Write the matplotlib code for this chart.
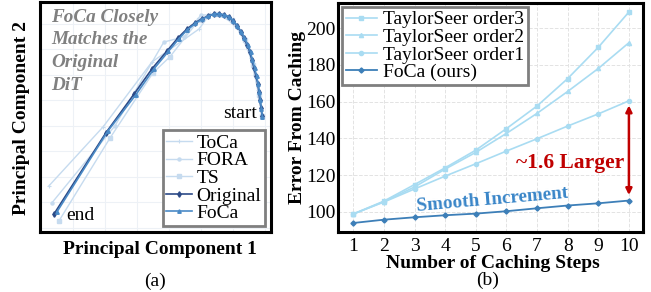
import matplotlib
matplotlib.use("Agg")
import matplotlib.pyplot as plt
import numpy as np

plt.rcParams['font.family'] = ['Liberation Serif', 'DejaVu Serif']
plt.rcParams['mathtext.fontset'] = 'stix'

# ---------------- data (a): PCA trajectories ----------------
orig_pc1 = [49.1, 48.8, 48.4, 48.1, 47.8, 47.2, 46.6, 45.9, 45.3, 44.4, 43.4, 42.5, 41.3, 40.0,
            38.8, 37.2, 35.6, 34.1, 32.2, 30.3, 28.1, 25.6, 22.8, 19.4, 14.7, 9.1, 0.3, -15.9]
orig_pc2 = [3.9, 7.1, 10.2, 13.3, 16.5, 19.6, 22.7, 25.9, 29.0, 31.8, 34.5, 36.9, 39.2, 41.2,
            42.7, 43.5, 43.9, 43.9, 43.1, 42.0, 40.4, 38.0, 34.5, 29.4, 22.4, 12.5, -2.7, -34.5]
foca_pc1 = [49.2, 48.9, 48.6, 48.3, 47.9, 47.4, 46.8, 46.1, 45.5, 44.6, 43.6, 42.6, 41.4, 40.1,
            38.8, 37.3, 35.7, 34.1, 32.2, 30.4, 28.3, 25.8, 23.1, 19.8, 15.2, 9.7, 0.9, -15.0]
foca_pc2 = [3.6, 6.8, 10.0, 13.2, 16.4, 19.6, 22.6, 25.8, 28.9, 31.7, 34.5, 36.9, 39.2, 41.3,
            42.8, 43.6, 44.0, 43.9, 43.0, 41.9, 40.2, 37.8, 34.2, 29.2, 22.2, 12.3, -2.0, -33.7]
ts_pc1 = [49.1, 48.1, 46.3, 43.8, 39.7, 34.4, 29.4, 20.3, 15.0, 1.6, -14.4]
ts_pc2 = [3.9, 12.2, 23.9, 33.7, 41.6, 43.9, 41.6, 27.1, 20.8, -4.7, -37.3]
fora_pc1 = [49.1, 48.4, 46.9, 44.7, 40.9, 35.9, 30.0, 24.7, 18.4, 3.1, -16.6]
fora_pc2 = [3.9, 10.2, 20.0, 30.6, 39.6, 43.5, 43.5, 34.9, 32.9, 0.0, -30.2]
toca_pc1 = [49.1, 47.8, 45.6, 42.2, 37.8, 32.8, 29.4, 14.7, -0.6, -17.5]
toca_pc2 = [3.9, 14.1, 26.7, 36.9, 42.7, 43.9, 38.0, 25.1, -0.4, -23.5]

# ---------------- data (b): caching error ----------------
steps = [1, 2, 3, 4, 5, 6, 7, 8, 9, 10]
ts_order3 = [98.9, 105.9, 114.9, 124.0, 133.6, 145.3, 157.6, 172.5, 189.5, 208.7]
ts_order2 = [98.9, 105.6, 113.6, 123.3, 132.4, 142.7, 153.6, 165.5, 178.0, 192.0]
ts_order1 = [98.9, 105.4, 112.5, 119.5, 126.2, 133.1, 139.8, 146.7, 153.3, 160.4]
foca_err = [94.0, 95.8, 97.1, 98.2, 99.1, 100.4, 102.0, 103.5, 104.7, 106.2]
yticks_b = [100, 120, 140, 160, 180, 200]

light = '#c6dbef'
c_orig = '#2c4a87'
c_foca = '#4a8ac6'
c_ts = '#a9dcf2'
c_ours = '#3d7fb8'
red = '#c00000'
FS = 14

fig = plt.figure(figsize=(6.51, 2.92), dpi=100)
W, H = 651, 292
ax1 = fig.add_axes([40/W, (H-232)/H, (271-40)/W, (232-2)/H])
ax2 = fig.add_axes([338/W, (H-232)/H, (643-338)/W, (232-3)/H])

# ---------- panel (a) ----------
ax1.plot(toca_pc1, toca_pc2, color=light, lw=1.0, marker='+', ms=3, mew=0.8, label='ToCa')
ax1.plot(fora_pc1, fora_pc2, color=light, lw=1.0, marker='o', ms=2.2, label='FORA')
ax1.plot(ts_pc1, ts_pc2, color=light, lw=1.0, marker='s', ms=2.2, label='TS')
ax1.plot(orig_pc1, orig_pc2, color=c_orig, lw=1.2, marker='d', ms=2.8, label='Original')
ax1.plot(foca_pc1, foca_pc2, color=c_foca, lw=1.2, marker='^', ms=2.5, label='FoCa')
ax1.set_xlim(-20.3, 51.9)
ax1.set_ylim(-41.6, 48.6)
ax1.set_xticks(np.arange(-20, 51, 10))
ax1.set_yticks(np.arange(-40, 48, 10))
ax1.tick_params(length=0, labelbottom=False, labelleft=False)
ax1.grid(True, color='#edf1f6', lw=0.8)
ax1.set_axisbelow(True)
for s in ax1.spines.values():
    s.set_linewidth(2.2)
ax1.text(47.5, 4.8, 'start', fontsize=FS, ha='right', va='center')
ax1.text(-12.0, -35.0, 'end', fontsize=FS, ha='left', va='center')
ax1.text(-16.8, 46.0, 'FoCa Closely\nMatches the\nOriginal\nDiT', fontsize=13.8,
         fontweight='bold', fontstyle='italic', color='#808080', ha='left', va='top',
         linespacing=1.45)
leg1 = ax1.legend(loc='lower right', fontsize=FS, handlelength=1.3, handletextpad=0.25,
                  labelspacing=0.0, borderpad=0.2, borderaxespad=0.3, fancybox=False,
                  framealpha=1)
leg1.get_frame().set_edgecolor('#7f7f7f')
leg1.get_frame().set_linewidth(2)
fig.text(160/W, 1-250/H, 'Principal Component 1', fontsize=FS, fontweight='bold',
         ha='center', va='center')
fig.text(22/W, 1-118/H, 'Principal Component 2', fontsize=FS, fontweight='bold',
         ha='center', va='center', rotation=90)
fig.text(155/W, 1-281/H, '(a)', fontsize=FS, ha='center', va='center')

# ---------- panel (b) ----------
ax2.plot(steps, ts_order3, color=c_ts, lw=1.2, marker='s', ms=3, label='TaylorSeer order3')
ax2.plot(steps, ts_order2, color=c_ts, lw=1.2, marker='^', ms=3, label='TaylorSeer order2')
ax2.plot(steps, ts_order1, color=c_ts, lw=1.2, marker='o', ms=3, label='TaylorSeer order1')
ax2.plot(steps, foca_err, color=c_ours, lw=1.3, marker='D', ms=2.6, label='FoCa (ours)')
ax2.set_xlim(0.5, 10.46)
ax2.set_ylim(89.1, 213.6)
ax2.set_xticks(steps)
ax2.set_yticks(yticks_b)
ax2.tick_params(length=0, labelsize=FS, pad=2)
ax2.tick_params(axis='x', pad=4)
ax2.grid(True, color='#e3e3e3', lw=0.7, ls='--')
ax2.set_axisbelow(True)
for s in ax2.spines.values():
    s.set_linewidth(2.2)
fig.text(493/W, 1-263/H, 'Number of Caching Steps', fontsize=FS, fontweight='bold',
         ha='center', va='center')
fig.text(297/W, 1-117/H, 'Error From Caching', fontsize=FS, fontweight='bold',
         ha='center', va='center', rotation=90)
leg2 = ax2.legend(loc='upper left', fontsize=FS, handlelength=1.6, handletextpad=0.3,
                  labelspacing=0.0, borderpad=0.2, borderaxespad=0.2, fancybox=False,
                  framealpha=1)
leg2.get_frame().set_edgecolor('#7f7f7f')
leg2.get_frame().set_linewidth(2)
ax2.text(5.53, 106.8, 'Smooth Increment', fontsize=13.8, fontweight='bold', color='#3a86c8',
         ha='center', va='center', rotation=5)
ax2.text(8.07, 126.6, '~1.6 Larger', fontsize=15.5, fontweight='bold', color=red,
         ha='center', va='center')
ax2.annotate('', xy=(10, ts_order1[-1] - 2.5), xytext=(10, foca_err[-1] + 3),
             arrowprops=dict(arrowstyle='<|-|>', color=red, lw=1.8, mutation_scale=9,
                             shrinkA=0, shrinkB=0))
fig.text(488/W, 1-280/H, '(b)', fontsize=FS, ha='center', va='center')

fig.savefig('out.png', dpi=100)
